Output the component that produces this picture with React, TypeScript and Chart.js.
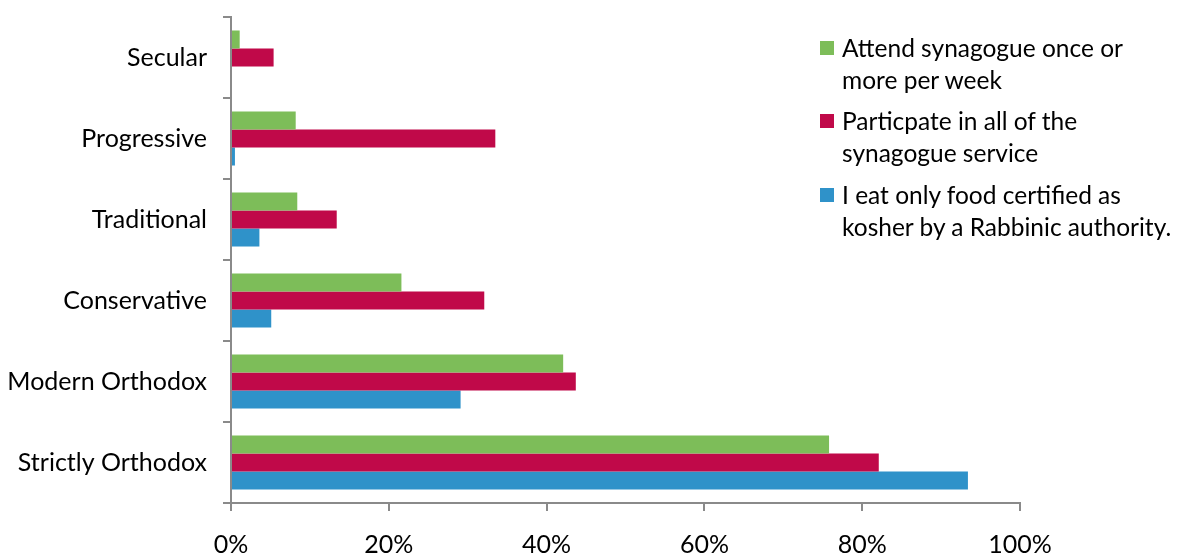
import React, { useEffect, useRef } from "react";
import { Chart, registerables } from "chart.js";

Chart.register(...registerables);

const categories = ["Secular", "Progressive", "Traditional", "Conservative", "Modern Orthodox", "Strictly Orthodox"];
const attendWeekly = [1.1, 8.2, 8.4, 21.6, 42.1, 75.8];
const participateAll = [5.4, 33.5, 13.4, 32.1, 43.7, 82.1];
const kosherOnly = [0, 0.5, 3.6, 5.1, 29.1, 93.4];
const seriesNames = [
  ["Attend synagogue once or", "more per week"],
  ["Particpate in all of the", "synagogue service"],
  ["I eat only food certified as", "kosher by a Rabbinic authority."],
];
const seriesColors = ["#7dbd59", "#c00949", "#2f92c9"];
const xMin = 0;
const xMax = 100;
const xStep = 20;

const FONT = "Lato, 'Open Sans', sans-serif";
const AXIS = "#8a8a8a";

export default function App() {
  const ref = useRef<HTMLCanvasElement | null>(null);

  useEffect(() => {
    if (!ref.current) return;
    const chart = new Chart(ref.current, {
      type: "bar",
      data: {
        labels: categories,
        datasets: [attendWeekly, participateAll, kosherOnly].map((d, i) => ({
          label: seriesNames[i].join(" "),
          data: d,
          backgroundColor: seriesColors[i],
          borderWidth: 0,
          barPercentage: 1,
          categoryPercentage: 0.667,
        })),
      },
      options: {
        indexAxis: "y",
        animation: false,
        responsive: false,
        devicePixelRatio: 1,
        layout: { padding: { left: 0, top: 17, right: 164, bottom: 0 } },
        plugins: { legend: { display: false }, tooltip: { enabled: false } },
        scales: {
          x: {
            min: xMin,
            max: xMax,
            afterFit: (s: any) => {
              s.height = 57;
              s.paddingLeft = 0;
              s.paddingRight = 0;
            },
            ticks: {
              stepSize: xStep,
              callback: (v: any) => v + "%",
              color: "#000",
              font: { family: FONT, size: 25 },
              padding: 19,
              maxRotation: 0,
            },
            grid: { drawOnChartArea: false, drawTicks: true, tickLength: 8, color: AXIS, lineWidth: 2 },
            border: { color: AXIS, width: 2 },
          },
          y: {
            type: "category",
            offset: true,
            afterFit: (s: any) => {
              s.width = 231;
              s.paddingTop = 0;
              s.paddingBottom = 0;
            },
            ticks: {
              color: "#000",
              font: { family: FONT, size: 25 },
              padding: 16,
            },
            grid: { offset: true, drawOnChartArea: false, drawTicks: true, tickLength: 8, color: AXIS, lineWidth: 2 },
            border: { color: AXIS, width: 2 },
          },
        },
      },
    });
    return () => chart.destroy();
  }, []);

  const itemCenters = [48, 121, 195];

  return (
    <div style={{ position: "fixed", left: 0, top: 0, width: 1184, height: 560, background: "#fff" }}>
      <canvas ref={ref} width={1184} height={560} style={{ position: "absolute", left: 0, top: 0, width: 1184, height: 560 }} />
      {seriesNames.map((lines, i) => (
        <div key={i}>
          <div
            style={{
              position: "absolute",
              left: 820,
              top: itemCenters[i] - 7,
              width: 14,
              height: 14,
              background: seriesColors[i],
            }}
          />
          <div
            style={{
              position: "absolute",
              left: 842,
              top: itemCenters[i] - 16,
              fontFamily: FONT,
              fontSize: 24.5,
              lineHeight: "32px",
              color: "#000",
              whiteSpace: "nowrap",
            }}
          >
            {lines.map((l, j) => (
              <div key={j}>{l}</div>
            ))}
          </div>
        </div>
      ))}
    </div>
  );
}
